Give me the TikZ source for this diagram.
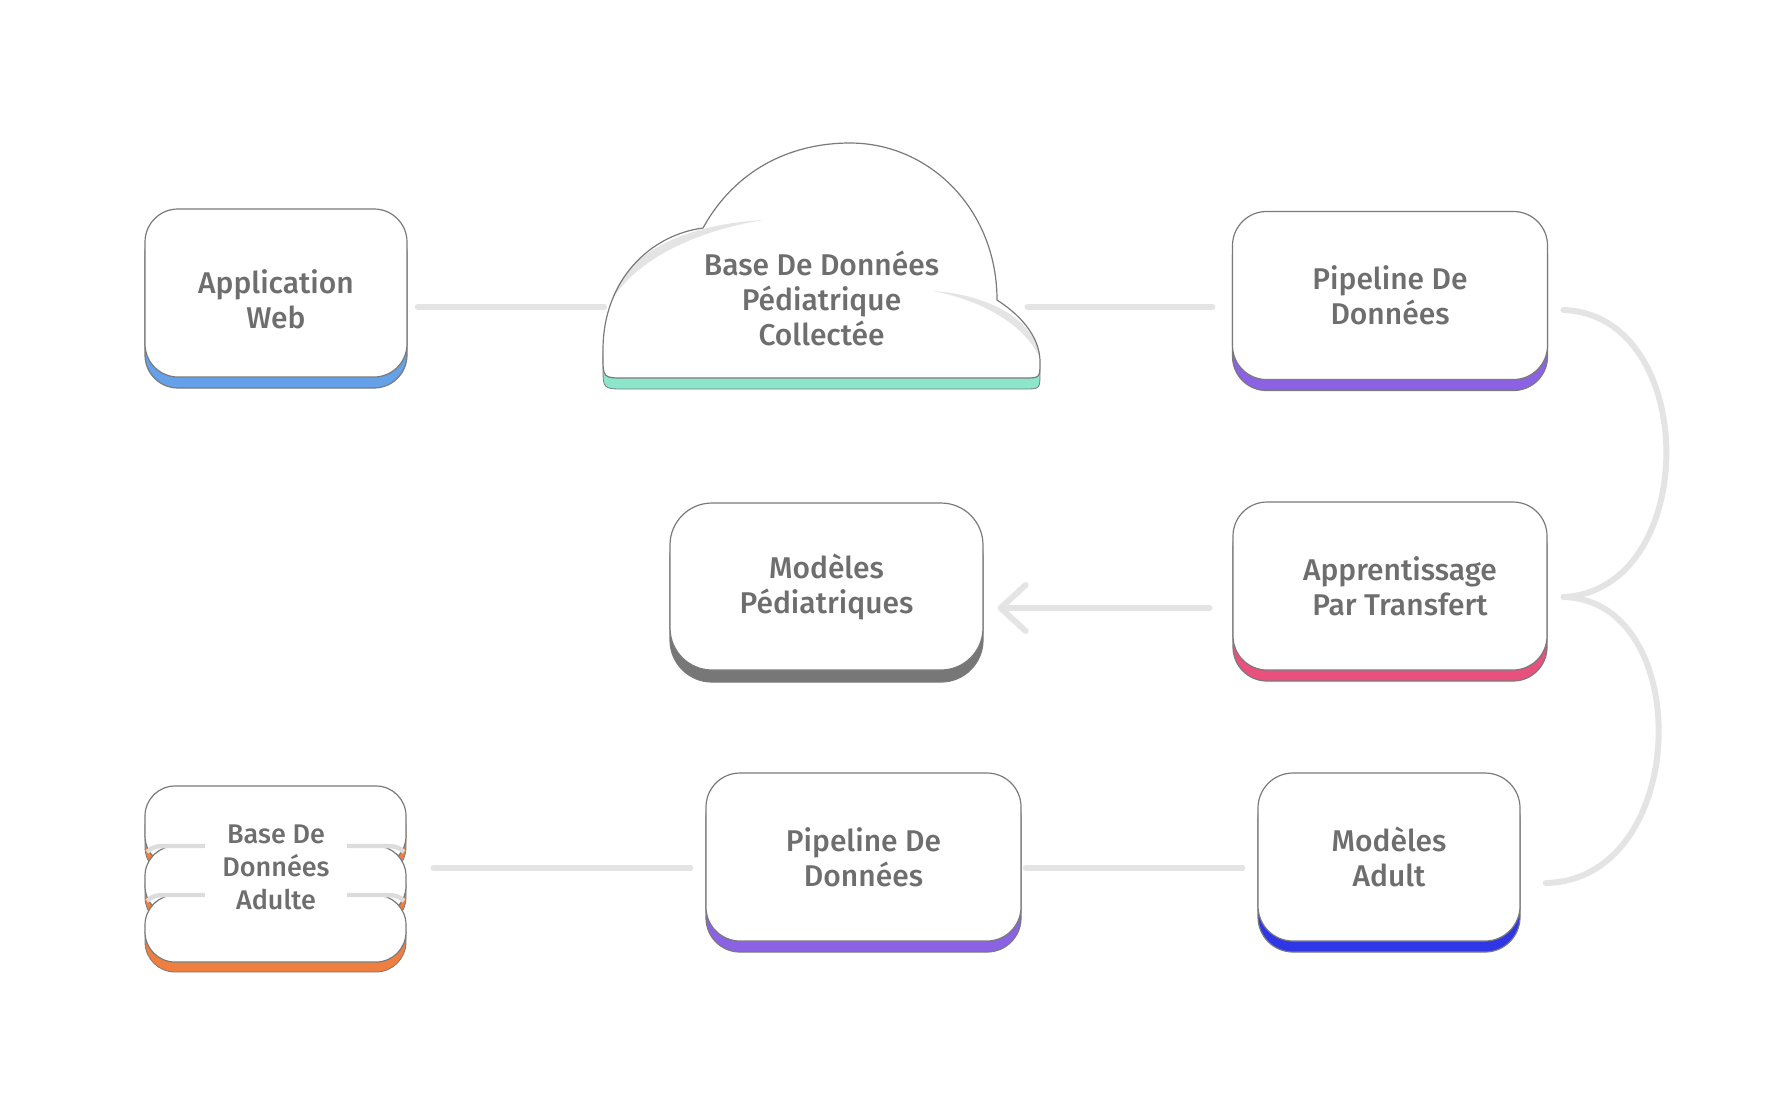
\documentclass[tikz,border=0pt]{standalone}
\usepackage{fontspec}
\setmainfont{Fira Sans}[UprightFont={* Medium}]
\usepackage{tikz}
\usetikzlibrary{shadows,calc,arrows.meta}
\definecolor{edge}{HTML}{7A7A7A}
\definecolor{ink}{HTML}{6E6E6E}
\definecolor{wire}{HTML}{E4E4E4}
\definecolor{seam}{HTML}{DCDCDC}
\definecolor{cweb}{HTML}{64A1E9}
\definecolor{cteal}{HTML}{8CE6CC}
\definecolor{cpipe}{HTML}{8B62E3}
\definecolor{cpink}{HTML}{E8517D}
\definecolor{cgray}{HTML}{777777}
\definecolor{cblue}{HTML}{2E36E6}
\definecolor{corange}{HTML}{F07F3F}
\tikzstyle{card} = [rectangle, draw=edge, fill=white, line width=0.6pt, text=ink, align=center, font=\fontsize{15pt}{17.5pt}\selectfont, minimum height=84pt]
\tikzstyle{link} = [draw=wire, line width=3pt, line cap=round]
\tikzset{under/.style={general shadow={fill=#1, draw=edge, shadow xshift=0pt, shadow yshift=-5.5pt}}}
\newcommand{\cloudpath}{(625,378) .. controls (603,378) .. (603,356) -- (603,350)
  .. controls (603,280) and (650,235) .. (703,228)
  .. controls (735,170) and (790,143) .. (850,143)
  .. controls (930,143) and (997,210) .. (997,300)
  .. controls (1025,318) and (1040,340) .. (1040,362)
  .. controls (1040,378) .. (1024,378) -- cycle}

\begin{document}
\begin{tikzpicture}[x=0.5pt,y=-0.5pt]
  \useasboundingbox (0,0) rectangle (1781,1115);

  % cloud
  \path[under=cteal, fill=white, line width=0.6pt] \cloudpath;
  \fill[wire] (612,300) .. controls (625,255) and (680,225) .. (763,220)
    .. controls (690,232) and (635,262) .. (612,300);
  \fill[wire] (933,291) .. controls (990,295) and (1035,320) .. (1040,358)
    .. controls (1025,326) and (985,301) .. (933,291);
  \draw[edge, line width=0.6pt] \cloudpath;

  % stacked base
  \draw[under=corange, fill=white, draw=edge, line width=0.6pt, rounded corners=15pt] (145,786) rectangle (406,866);
  \draw[under=corange, fill=white, draw=edge, line width=0.6pt, rounded corners=15pt] (145,846) rectangle (406,916);
  \draw[general shadow={fill=corange, draw=edge, shadow xshift=0pt, shadow yshift=-5pt}, fill=white, draw=edge, line width=0.6pt, rounded corners=15pt] (145,895) rectangle (406,962);
  \draw[seam, line width=2.2pt] (147,852) .. controls (154,846) .. (175,846) -- (376,846) .. controls (397,846) .. (404,852);
  \draw[seam, line width=2.2pt] (147,901) .. controls (154,895) .. (175,895) -- (376,895) .. controls (397,895) .. (404,901);

  \node[card, under=cweb, minimum width=131pt, rounded corners=16.5pt] (app) at (276,293) {\rule{0pt}{18pt}Application\\Web};
  \node[text=ink, align=center, font=\fontsize{15pt}{17.5pt}\selectfont, minimum width=218.5pt] (cloud) at (821.5,298) {Base De Données\\Pédiatrique\\Collectée};
  \node[card, under=cpipe, minimum width=157.5pt, rounded corners=17pt] (pipeA) at (1390,295.5) {Pipeline De\\Données};
  \node[card, under=cpink, minimum width=157pt, rounded corners=17pt] (transfer) at (1390,586) {\hspace*{10pt}Apprentissage\\\hspace*{10pt}Par Transfert};
  \node[card, general shadow={fill=cgray, draw=edge, shadow xshift=0pt, shadow yshift=-6pt}, minimum width=156.5pt, minimum height=83.5pt, rounded corners=21pt] (pedmod) at (826.5,586.5) {Modèles\\Pédiatriques};
  \node[card, under=cpipe, minimum width=157.5pt, rounded corners=17pt] (pipeB) at (863.5,857) {Pipeline De\\Données};
  \node[card, under=cblue, minimum width=131pt, rounded corners=17.5pt] (adult) at (1389,857) {Modèles\\Adult};
  \node[text=ink, fill=white, align=center, font=\fontsize{13.5pt}{16.5pt}\selectfont, minimum width=71pt, inner ysep=1pt] (bdd) at (276,867) {Base De\\Données\\Adulte};

  \draw[link] ($(app.east)+(10,14)$) -- ($(cloud.west)+(1.5,9)$);
  \draw[link] ($(cloud.east)+(-13,9)$) -- ($(pipeA.west)+(-19.5,11.5)$);
  \draw[link, -{Straight Barb[length=12.5pt, width=23pt, round]}] ($(transfer.west)+(-23,22)$) -- ($(pedmod.east)+(14,21.5)$);
  \draw[link] ($(bdd.east)+(86,1)$) -- ($(pipeB.west)+(-15,11)$);
  \draw[link] ($(pipeB.east)+(4,11)$) -- ($(adult.west)+(-15,11)$);
  \draw[link] ($(pipeA.east)+(15.5,14.5)$) .. controls +(137,5) and +(137,-7) .. ($(transfer.east)+(16,11)$);
  \draw[link] ($(transfer.east)+(16,11)$) .. controls +(132,3) and +(145,-3) .. ($(adult.east)+(25,26)$);
\end{tikzpicture}
\end{document}
